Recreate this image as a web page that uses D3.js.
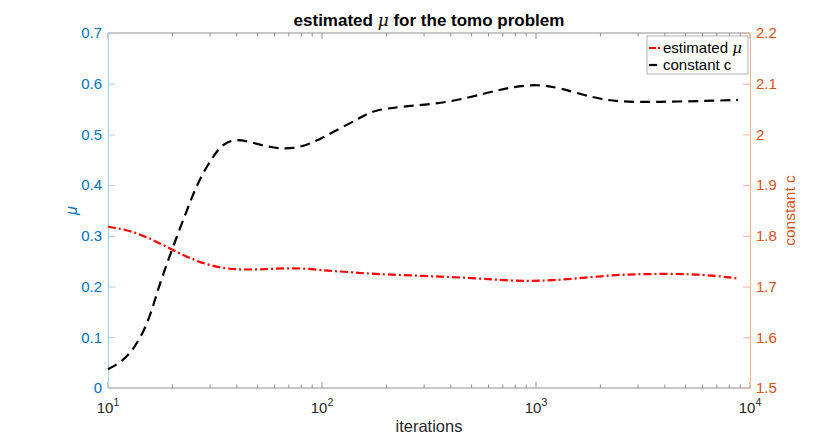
<!DOCTYPE html>
<html>
<head>
<meta charset="utf-8">
<script src="https://cdn.jsdelivr.net/npm/d3@7"></script>
<style>
  body { margin: 0; background: #fff; }
  text { font-family: "Liberation Sans", Arial, sans-serif; }
</style>
</head>
<body>
<div id="chart"></div>
<script>
// data
var muIter = [10, 12.3, 15.2, 18.9, 23.4, 29, 35.9, 44.6, 59, 78.9, 105, 121, 150, 173, 297, 508, 781, 1046, 1490, 2290, 3300, 5250, 7020, 8790];
var muVals = [0.318, 0.312, 0.298, 0.278, 0.258, 0.243, 0.235, 0.233, 0.235, 0.237, 0.231, 0.230, 0.227, 0.225, 0.221, 0.217, 0.211, 0.211, 0.215, 0.223, 0.225, 0.225, 0.221, 0.216];

var cIter = [10, 11.75, 13.4, 15.2, 16.6, 17.5, 20.1, 23.4, 26.3, 30.6, 34.5, 40.1, 46.1, 59, 73.2, 90.7, 112.5, 150.5, 173, 249, 384, 590, 781, 1012, 1294, 1846, 2470, 3675, 6300, 8790];
var cVals = [1.537, 1.553, 1.581, 1.624, 1.674, 1.707, 1.778, 1.851, 1.906, 1.954, 1.983, 1.991, 1.985, 1.973, 1.971, 1.983, 2.005, 2.032, 2.048, 2.056, 2.062, 2.082, 2.094, 2.099, 2.092, 2.072, 2.064, 2.064, 2.066, 2.068];

var xMajor = [1, 2, 3, 4];            // exponents of 10
var leftTicks = [0, 0.1, 0.2, 0.3, 0.4, 0.5, 0.6, 0.7];
var rightTicks = [1.5, 1.6, 1.7, 1.8, 1.9, 2, 2.1, 2.2];

var svgWidth = 830, svgHeight = 436;
var margin = { top: 33, right: 80, bottom: 48, left: 108 };
var width = svgWidth - margin.left - margin.right;
var height = svgHeight - margin.top - margin.bottom;

var blue = "#0072BD", orange = "#D95319";

var svg = d3.select("#chart").append("svg")
  .attr("width", svgWidth)
  .attr("height", svgHeight);

var g = svg.append("g")
  .attr("transform", `translate(${margin.left}, ${margin.top})`);

var x = d3.scaleLog().domain([10, 10000]).range([0, width]);
var yL = d3.scaleLinear().domain([0, 0.7]).range([height, 0]);
var yR = d3.scaleLinear().domain([1.5, 2.2]).range([height, 0]);

// minor ticks for the log axis
var minor = [];
[10, 100, 1000].forEach(function(d) {
  for (var k = 2; k <= 9; k++) minor.push(d * k);
});
var major = xMajor.map(function(e) { return Math.pow(10, e); });

// bottom and top axes
function xAxis(sel, top) {
  sel.selectAll(".minor").data(minor).enter().append("line")
    .attr("x1", d => x(d)).attr("x2", d => x(d))
    .attr("y1", top ? 0 : height).attr("y2", top ? 3.5 : height - 3.5)
    .attr("stroke", "#909090");
  sel.selectAll(".major").data(major).enter().append("line")
    .attr("x1", d => x(d)).attr("x2", d => x(d))
    .attr("y1", top ? 0 : height).attr("y2", top ? 6 : height - 6)
    .attr("stroke", "#909090");
  sel.append("line")
    .attr("x1", 0).attr("x2", width)
    .attr("y1", top ? 0 : height).attr("y2", top ? 0 : height)
    .attr("stroke", "#909090");
}
xAxis(g.append("g"), false);
xAxis(g.append("g"), true);

// x tick labels with superscript exponent
var xl = g.append("g").selectAll("text").data(xMajor).enter().append("text")
  .attr("x", d => x(Math.pow(10, d)))
  .attr("y", height + 25)
  .attr("text-anchor", "middle")
  .attr("font-size", "15px")
  .attr("fill", "#262626");
xl.append("tspan").text("10");
xl.append("tspan").attr("dy", -7).attr("font-size", "10.5px").text(d => d);

// left axis
var la = g.append("g")
  .call(d3.axisLeft(yL).tickValues(leftTicks).tickSizeInner(-7).tickSizeOuter(0).tickPadding(6)
    .tickFormat(d3.format("")));
la.select(".domain").attr("stroke", "#a9cdee");
la.selectAll(".tick line").attr("stroke", "#a9cdee");
la.selectAll(".tick text").attr("fill", blue).attr("font-size", "15px")
  .attr("font-family", "Liberation Sans, Arial, sans-serif");

// right axis
var ra = g.append("g").attr("transform", `translate(${width},0)`)
  .call(d3.axisRight(yR).tickValues(rightTicks).tickSizeInner(-7).tickSizeOuter(0).tickPadding(6)
    .tickFormat(d3.format("")));
ra.select(".domain").attr("stroke", "#efb59c");
ra.selectAll(".tick line").attr("stroke", "#efb59c");
ra.selectAll(".tick text").attr("fill", orange).attr("font-size", "15px")
  .attr("font-family", "Liberation Sans, Arial, sans-serif");

// lines
var muData = muIter.map((d, i) => [d, muVals[i]]);
var cData = cIter.map((d, i) => [d, cVals[i]]);

g.append("path").datum(cData)
  .attr("fill", "none")
  .attr("stroke", "black")
  .attr("stroke-width", 2.2)
  .attr("stroke-dasharray", "10,6")
  .attr("d", d3.line().x(d => x(d[0])).y(d => yR(d[1])).curve(d3.curveBasis));

g.append("path").datum(muData)
  .attr("fill", "none")
  .attr("stroke", "#ff0000")
  .attr("stroke-width", 2.2)
  .attr("stroke-dasharray", "8,3,2,3")
  .attr("d", d3.line().x(d => x(d[0])).y(d => yL(d[1])).curve(d3.curveBasis));

// title
var title = svg.append("text")
  .attr("x", margin.left + width / 2)
  .attr("y", 26)
  .attr("text-anchor", "middle")
  .attr("font-size", "17px")
  .attr("font-weight", "bold")
  .attr("fill", "black");
title.append("tspan").text("estimated ");
title.append("tspan").attr("font-family", "DejaVu Serif, serif").attr("font-style", "italic").attr("font-weight", "normal").text("μ");
title.append("tspan").text(" for the tomo problem");

// axis labels
svg.append("text")
  .attr("x", margin.left + width / 2)
  .attr("y", 432)
  .attr("text-anchor", "middle")
  .attr("font-size", "16.5px")
  .attr("fill", "#262626")
  .text("iterations");

svg.append("text")
  .attr("transform", `translate(77, ${margin.top + height / 2}) rotate(-90)`)
  .attr("text-anchor", "middle")
  .attr("font-size", "16px")
  .attr("font-style", "italic")
  .attr("font-family", "DejaVu Serif, serif")
  .attr("fill", blue)
  .text("μ");

svg.append("text")
  .attr("transform", `translate(795, ${margin.top + height / 2}) rotate(-90)`)
  .attr("text-anchor", "middle")
  .attr("font-size", "15.5px")
  .attr("fill", orange)
  .text("constant c");

// legend
var lg = svg.append("g").attr("transform", "translate(647, 36)");
lg.append("rect").attr("width", 101).attr("height", 38)
  .attr("fill", "white").attr("stroke", "#a0a0a0").attr("stroke-width", 0.8);
lg.append("line").attr("x1", 2).attr("x2", 15).attr("y1", 12).attr("y2", 12)
  .attr("stroke", "#ff0000").attr("stroke-width", 2.2).attr("stroke-dasharray", "7,2,2,2");
lg.append("line").attr("x1", 2).attr("x2", 10).attr("y1", 29).attr("y2", 29)
  .attr("stroke", "black").attr("stroke-width", 2.2);
var t1 = lg.append("text").attr("x", 16).attr("y", 17).attr("font-size", "15px").attr("fill", "black");
t1.append("tspan").text("estimated ");
t1.append("tspan").attr("font-family", "DejaVu Serif, serif").attr("font-style", "italic").text("μ");
lg.append("text").attr("x", 16).attr("y", 34).attr("font-size", "15px").attr("fill", "black").text("constant c");
</script>
</body>
</html>
